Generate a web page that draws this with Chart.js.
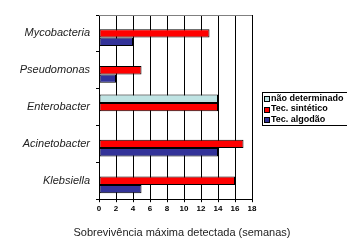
<!DOCTYPE html>
<html>
<head>
<meta charset="utf-8">
<script src="https://cdn.jsdelivr.net/npm/chart.js@4"></script>
<style>
  html, body { margin: 0; padding: 0; background: #fff; }
  #wrap { width: 347px; height: 240px; }
</style>
</head>
<body>
<div id="wrap"><canvas id="survChart"></canvas></div>
<script>
const categories = ['Mycobacteria', 'Pseudomonas', 'Enterobacter', 'Acinetobacter', 'Klebsiella'];
const seriesNames = ['não determinado', 'Tec. sintético', 'Tec. algodão'];
const naoDeterminado = [null, null, 14, null, null];
const tecSintetico = [13, 5, 14, 17, 16];
const tecAlgodao = [4, 2, null, 14, 5];
const xTitle = 'Sobrevivência máxima detectada (semanas)';

const COLORS = {
  cyan: '#BFE3E3',
  red: '#FF0000',
  blue: '#333399',
  black: '#000000'
};
const FONT = 'Liberation Sans, Arial, sans-serif';

function series(label, values, color) {
  return {
    label: label,
    data: values,
    backgroundColor: color,
    borderColor: COLORS.black,
    borderWidth: 1,
    borderSkipped: false,
    categoryPercentage: 0.68,
    barPercentage: 1.0
  };
}

const data = {
  labels: categories,
  datasets: [
    series(seriesNames[0], naoDeterminado, COLORS.cyan),
    series(seriesNames[1], tecSintetico, COLORS.red),
    series(seriesNames[2], tecAlgodao, COLORS.blue)
  ]
};

// gray top edge of plot + boxed legend on the right (runs off the canvas edge like the original)
const framePlugin = {
  id: 'frame',
  afterDraw(chart) {
    const ctx = chart.ctx;
    const area = chart.chartArea;
    ctx.save();
    ctx.strokeStyle = '#808080';
    ctx.lineWidth = 1;
    ctx.beginPath();
    ctx.moveTo(area.left, area.top + 0.5);
    ctx.lineTo(area.right, area.top + 0.5);
    ctx.stroke();

    const lx = area.right + 10;
    const ly = 92;
    const rowH = 10.5;
    ctx.strokeStyle = COLORS.black;
    ctx.strokeRect(lx + 0.5, ly + 0.5, 120, 33);
    ctx.font = 'bold 9px ' + FONT;
    ctx.textBaseline = 'middle';
    ctx.textAlign = 'left';
    chart.data.datasets.forEach((ds, i) => {
      const cy = ly + 6.5 + i * rowH;
      ctx.fillStyle = ds.backgroundColor;
      ctx.fillRect(lx + 2.5, Math.round(cy - 2.5), 5, 5);
      ctx.strokeStyle = COLORS.black;
      ctx.strokeRect(lx + 2.5, Math.round(cy - 2.5) + 0.5, 5, 5);
      ctx.fillStyle = COLORS.black;
      ctx.fillText(ds.label, lx + 9, cy);
    });
    ctx.restore();
  }
};

const ctx = document.getElementById('survChart').getContext('2d');

new Chart(ctx, {
  type: 'bar',
  data: data,
  options: {
    indexAxis: 'y',
    responsive: true,
    maintainAspectRatio: false,
    animation: false,
    devicePixelRatio: 1,
    layout: {
      padding: { left: 17, right: 0, top: 15, bottom: 0 }
    },
    plugins: {
      tooltip: { enabled: false },
      legend: { display: false },
      title: {
        display: true,
        position: 'bottom',
        text: xTitle,
        color: '#222222',
        padding: { top: 11, bottom: 0 },
        font: { family: FONT, size: 11, weight: 'normal' }
      }
    },
    scales: {
      x: {
        min: 0,
        max: 18,
        ticks: {
          stepSize: 2,
          color: COLORS.black,
          padding: 2,
          font: { family: FONT, size: 8, weight: 'bold' }
        },
        grid: {
          color: COLORS.black,
          lineWidth: 1,
          tickLength: 3
        },
        border: { color: COLORS.black }
      },
      y: {
        afterFit(scale) { scale.width = 82; },
        ticks: {
          color: '#222222',
          padding: 6,
          font: { family: FONT, size: 11, style: 'italic' }
        },
        grid: {
          drawOnChartArea: false,
          color: COLORS.black,
          tickLength: 3,
          offset: true
        },
        border: { color: COLORS.black }
      },
      // empty right-hand axis that keeps room for the legend box
      legendSpace: {
        type: 'category',
        position: 'right',
        labels: categories,
        afterFit(scale) { scale.width = 95; },
        ticks: { display: false },
        grid: { display: false },
        border: { display: false }
      }
    }
  },
  plugins: [framePlugin]
});
</script>
</body>
</html>
